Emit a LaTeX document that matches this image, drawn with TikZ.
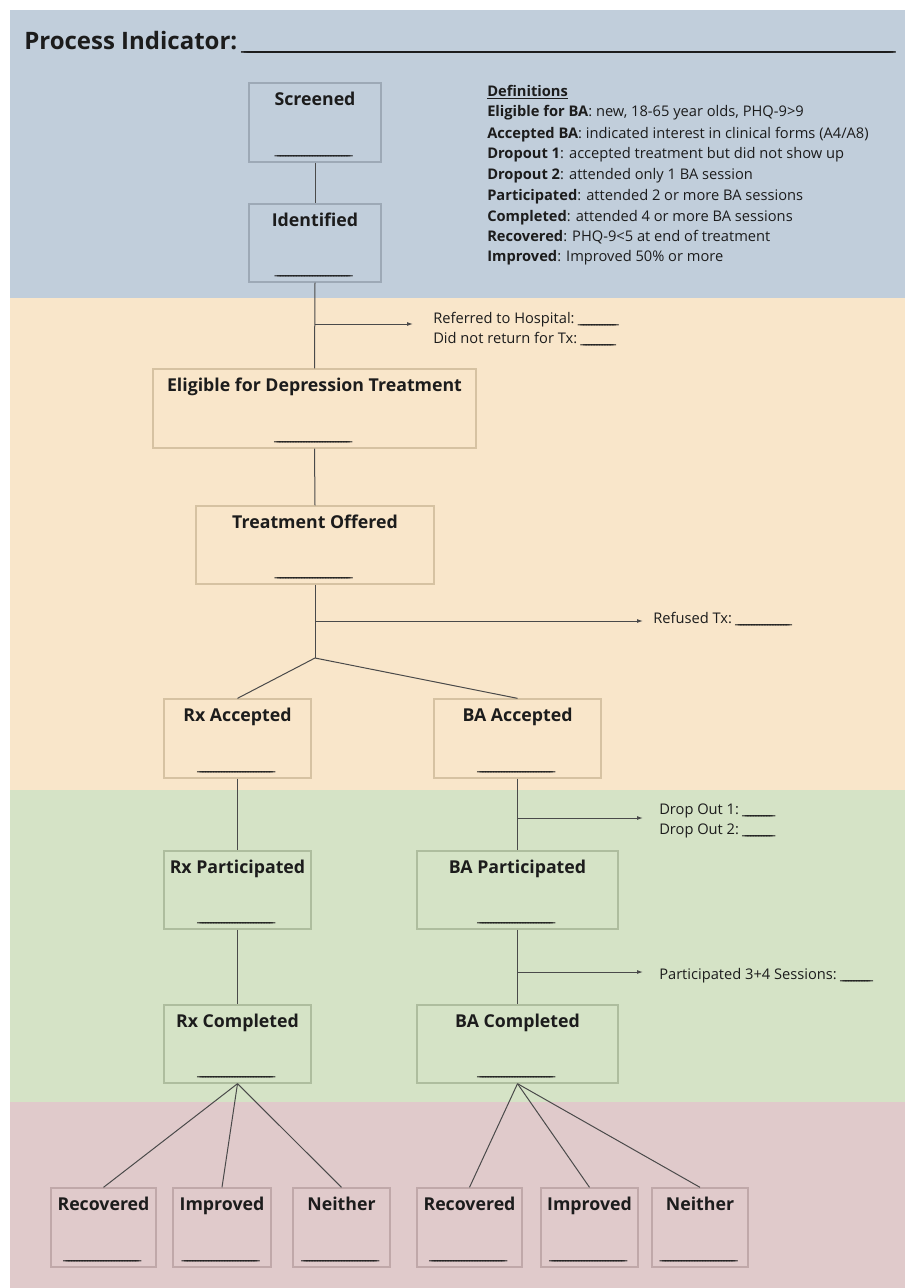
\documentclass[tikz,border=0pt]{standalone}
\usepackage{fontspec}
\setmainfont{Open Sans}
\usetikzlibrary{arrows.meta}
\definecolor{bandblue}{HTML}{C1CEDB}
\definecolor{bandpeach}{HTML}{F9E6CA}
\definecolor{bandgreen}{HTML}{D5E3C6}
\definecolor{bandpink}{HTML}{E0CACB}
\definecolor{edgeblue}{HTML}{9DA9B6}
\definecolor{edgepeach}{HTML}{D6C2A2}
\definecolor{edgegreen}{HTML}{AEBD9E}
\definecolor{edgepink}{HTML}{C0A8A9}
\definecolor{linec}{HTML}{4A4A4A}
\definecolor{txt}{HTML}{1C1C1C}
% a blank made of underscore glyphs, #1 = width in px
\newcommand\ul[1]{\hbox to #1\dimexpr 0.75pt\relax{\leaders\hbox to 2pt{\hss\_\hss}\hfill}}
\newcommand\mkbox[8]{%
  \node[boxnode,draw=#7,minimum width={(#4-#2)*0.75pt},minimum height={(#5-#3)*0.75pt}] (#1) at ({(#2+#4)/2},{(#3+#5)/2}) {};
  \node[lbl] (#1-l) at ([yshift={-23*0.75pt}]#1.north) {#6};
  \node[blk] (#1-b) at ([yshift={8.5*0.75pt}]#1.south) {\ul{#8}};
}
\begin{document}
\begin{tikzpicture}[x=0.75pt,y=-0.75pt,
  boxnode/.style={rectangle,line width=1pt,inner sep=0pt},
  lbl/.style={anchor=base,inner sep=0pt,text=txt,font=\fontsize{13.3}{16}\selectfont\bfseries},
  blk/.style={anchor=base,inner sep=0pt,text=txt,font=\fontsize{11}{13}\selectfont},
  note/.style={anchor=base west,inner sep=0pt,text=txt,font=\fontsize{11}{13}\selectfont},
  defn/.style={anchor=base west,inner sep=0pt,text=txt,font=\fontsize{11}{13}\selectfont},
  conn/.style={draw=linec,line width=0.75pt},
  arr/.style={conn,-{Latex[length=4.5pt,width=3pt]}}]
\useasboundingbox (0,0) rectangle (905,1288);
\fill[white] (0,0) rectangle (905,1288);
\fill[bandblue] (10,10) rectangle (905,298);
\fill[bandpeach] (10,298) rectangle (905,790);
\fill[bandgreen] (10,790) rectangle (905,1102);
\fill[bandpink] (10,1102) rectangle (905,1288);

% title
\node[anchor=base west,inner sep=0pt,text=txt,font=\fontsize{18}{22}\selectfont\bfseries] (title) at (24,50) {Process Indicator:};
\node[anchor=base west,inner sep=0pt,text=txt,font=\fontsize{18}{22}\selectfont] (titleblank) at (245,50) {\ul{650}};

% definitions
\node[defn] (d0) at (487,96) {\textbf{\underline{Definitions}}};
\node[defn] (d1) at (487,117) {\textbf{Eligible for BA}: new, 18-65 year olds, PHQ-9>9};
\node[defn] (d2) at (487,138) {\textbf{Accepted BA}: indicated interest in clinical forms (A4/A8)};
\node[defn] (d3) at (487,158) {\textbf{Dropout 1}: accepted treatment but did not show up};
\node[defn] (d4) at (487,179) {\textbf{Dropout 2}: attended only 1 BA session};
\node[defn] (d5) at (487,200) {\textbf{Participated}: attended 2 or more BA sessions};
\node[defn] (d6) at (487,221) {\textbf{Completed}: attended 4 or more BA sessions};
\node[defn] (d7) at (487,241) {\textbf{Recovered}: PHQ-9<5 at end of treatment};
\node[defn] (d8) at (487,261) {\textbf{Improved}: Improved 50\% or more};

% boxes
\mkbox{scr}{249}{83}{381}{162}{Screened}{edgeblue}{77}
\mkbox{idn}{249}{204}{381}{282}{Identified}{edgeblue}{77}
\mkbox{elg}{153}{369}{476}{448}{Eligible for Depression Treatment}{edgepeach}{77}
\mkbox{off}{196}{506}{434}{584}{Treatment Offered}{edgepeach}{77}
\mkbox{rxa}{164}{699}{311}{778}{Rx Accepted}{edgepeach}{77}
\mkbox{baa}{434}{699}{601}{778}{BA Accepted}{edgepeach}{77}
\mkbox{rxp}{164}{851}{311}{929}{Rx Participated}{edgegreen}{77}
\mkbox{bap}{417}{851}{618}{929}{BA Participated}{edgegreen}{77}
\mkbox{rxc}{164}{1005}{311}{1083}{Rx Completed}{edgegreen}{77}
\mkbox{bac}{417}{1005}{618}{1083}{BA Completed}{edgegreen}{77}
\mkbox{rec1}{51}{1188}{156}{1267}{Recovered}{edgepink}{77}
\mkbox{imp1}{173}{1188}{271}{1267}{Improved}{edgepink}{77}
\mkbox{nei1}{293}{1188}{390}{1267}{Neither}{edgepink}{77}
\mkbox{rec2}{417}{1188}{522}{1267}{Recovered}{edgepink}{77}
\mkbox{imp2}{541}{1188}{638}{1267}{Improved}{edgepink}{77}
\mkbox{nei2}{652}{1188}{748}{1267}{Neither}{edgepink}{77}

% side notes
\node[note] (n1a) at (433,323) {Referred to Hospital: \ul{38}};
\node[note] (n1b) at (433,343) {Did not return for Tx: \ul{32}};
\node[note] (n2) at (653,623) {Refused Tx: \ul{55}};
\node[note] (n3a) at (659,814) {Drop Out 1: \ul{30}};
\node[note] (n3b) at (659,834) {Drop Out 2: \ul{30}};
\node[note] (n4) at (659,979) {Participated 3+4 Sessions: \ul{30}};

% connector points
\coordinate (b1) at (315,324);
\coordinate (t1) at (413,324);
\coordinate (b2) at (315,621);
\coordinate (t2) at (643,621);
\coordinate (j1) at (315,658);
\coordinate (b3) at (517.5,818);
\coordinate (t3) at (643,818);
\coordinate (b4) at (517.5,972);
\coordinate (t4) at (643,972);

% connectors
\draw[conn] (scr.south) -- (idn.north);
\draw[conn] (idn.south) -- (elg.north);
\draw[arr] (b1) -- (t1);
\draw[conn] (elg.south) -- (off.north);
\draw[conn] (off.south) -- (j1);
\draw[arr] (b2) -- (t2);
\draw[conn] (j1) -- (rxa.north);
\draw[conn] (j1) -- (baa.north);
\draw[conn] (rxa.south) -- (rxp.north);
\draw[conn] (rxp.south) -- (rxc.north);
\draw[conn] (baa.south) -- (bap.north);
\draw[arr] (b3) -- (t3);
\draw[conn] (bap.south) -- (bac.north);
\draw[arr] (b4) -- (t4);
\draw[conn] (rxc.south) -- (rec1.north);
\draw[conn] (rxc.south) -- (imp1.north);
\draw[conn] (rxc.south) -- (nei1.north);
\draw[conn] (bac.south) -- (rec2.north);
\draw[conn] (bac.south) -- (imp2.north);
\draw[conn] (bac.south) -- (nei2.north);
\end{tikzpicture}
\end{document}
